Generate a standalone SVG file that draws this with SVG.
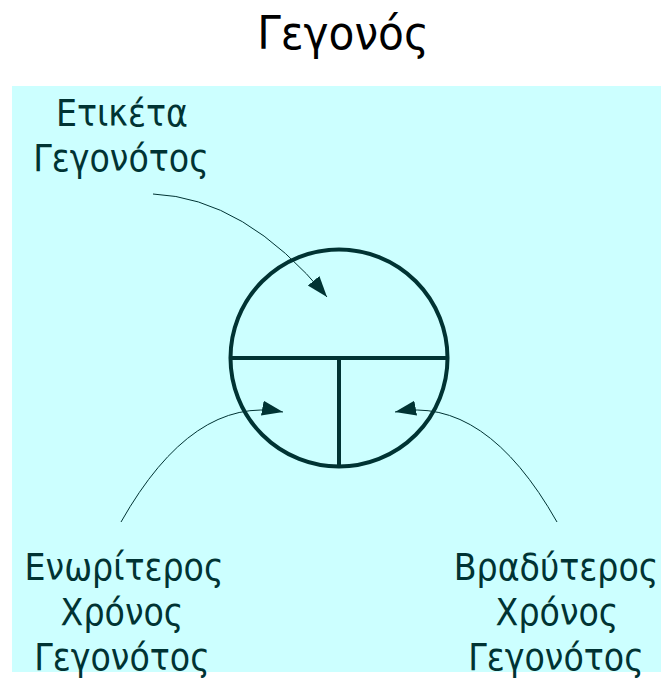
<svg xmlns="http://www.w3.org/2000/svg" width="661" height="682" viewBox="0 0 661 682">
<style>
.lbl{font-family:"DejaVu Sans Condensed","DejaVu Sans",sans-serif;font-stretch:condensed;font-size:37px;fill:#003333;text-anchor:middle}
.title{font-family:"DejaVu Sans Condensed","DejaVu Sans",sans-serif;font-stretch:condensed;font-size:47px;fill:#000000;text-anchor:middle}
.shape{fill:none;stroke:#003333;stroke-width:4}
.conn{fill:none;stroke:#003333;stroke-width:1}
</style>
<defs>
<marker id="ah" markerUnits="userSpaceOnUse" markerWidth="22" markerHeight="16" refX="21" refY="7.5" orient="auto" viewBox="0 0 22 16">
<path d="M0,0 L21,7.5 L0,15 z" fill="#003333"/>
</marker>
</defs>
<rect x="12" y="86" width="649" height="586" fill="#CCFFFF"/>
<text class="title" x="343" y="49">Γεγονός</text>
<g id="event">
<circle class="shape" cx="339" cy="358" r="108.5"/>
<line class="shape" x1="230.5" y1="358" x2="447.5" y2="358"/>
<line class="shape" x1="339" y1="358" x2="339" y2="466.5"/>
</g>
<g id="label-event">
<text class="lbl" x="122" y="126">Ετικέτα</text>
<text class="lbl" x="121" y="171">Γεγονότος</text>
</g>
<g id="label-early">
<text class="lbl" x="124" y="580">Ενωρίτερος</text>
<text class="lbl" x="122" y="625">Χρόνος</text>
<text class="lbl" x="122" y="670">Γεγονότος</text>
</g>
<g id="label-late">
<text class="lbl" x="556" y="580">Βραδύτερος</text>
<text class="lbl" x="557" y="625">Χρόνος</text>
<text class="lbl" x="556" y="670">Γεγονότος</text>
</g>
<g id="connectors">
<path class="conn" d="M153,194 Q245,198 327,297" marker-end="url(#ah)"/>
<path class="conn" d="M121,522 Q193,395 283,412" marker-end="url(#ah)"/>
<path class="conn" d="M557,522 Q485,395 395,412" marker-end="url(#ah)"/>
</g>
</svg>
